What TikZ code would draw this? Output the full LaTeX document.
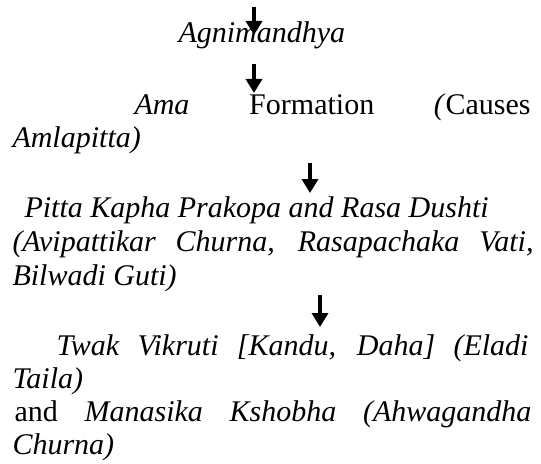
\documentclass[tikz,border=0pt]{standalone}
\usepackage{fontspec}
\setmainfont{Liberation Serif}
\usetikzlibrary{arrows.meta}

\tikzset{every picture/.style={line width=0.75pt}}
\tikzset{flowtext/.style={anchor=base west,inner sep=0pt,font=\fontsize{22.5}{27}\selectfont},
  flowarrow/.style={line width=2.6pt,-{Triangle[width=12pt,length=10.5pt]}}}

\begin{document}
\begin{tikzpicture}[x=0.75pt,y=0.75pt,yscale=-1,xscale=1]
\useasboundingbox (0,0) rectangle (541,463);

% Text Node
\node [flowtext] (agni) at (178,43) {\textit{Agnimandhya}};
% Text Node
\node [flowtext] (ama) at (134,115) {\makebox[297pt][s]{\textit{Ama} Formation \textit{(}Causes}};
% Text Node
\node [flowtext] (amla) at (12,148) {\textit{Amlapitta)}};
% Text Node
\node [flowtext] (pitta) at (24,217) {\textit{Pitta Kapha Prakopa and Rasa Dushti}};
% Text Node
\node [flowtext] (avi) at (12,251) {\makebox[390.75pt][s]{\textit{(Avipattikar Churna, Rasapachaka Vati,}}};
% Text Node
\node [flowtext] (bilwa) at (12,285) {\textit{Bilwadi Guti)}};
% Text Node
\node [flowtext] (twak) at (56,355) {\makebox[354pt][s]{\textit{Twak Vikruti [Kandu, Daha] (Eladi}}};
% Text Node
\node [flowtext] (taila) at (12,388) {\textit{Taila)}};
% Text Node
\node [flowtext] (manas) at (14,421) {\makebox[387.75pt][s]{and \textit{Manasika Kshobha (Ahwagandha}}};
% Text Node
\node [flowtext] (churna) at (12,454) {\textit{Churna)}};

\coordinate (arr1top) at (254,7);
\coordinate (arr1tip) at (254,35);
\coordinate (arr2top) at (254,64);
\coordinate (arr2tip) at (254,93);
\coordinate (arr3top) at (310,163);
\coordinate (arr3tip) at (310,193);
\coordinate (arr4top) at (320,295);
\coordinate (arr4tip) at (320,327);

% Connection
\draw [flowarrow] (arr1top) -- (arr1tip);
% Connection
\draw [flowarrow] (arr2top) -- (arr2tip);
% Connection
\draw [flowarrow] (arr3top) -- (arr3tip);
% Connection
\draw [flowarrow] (arr4top) -- (arr4tip);

\end{tikzpicture}
\end{document}
